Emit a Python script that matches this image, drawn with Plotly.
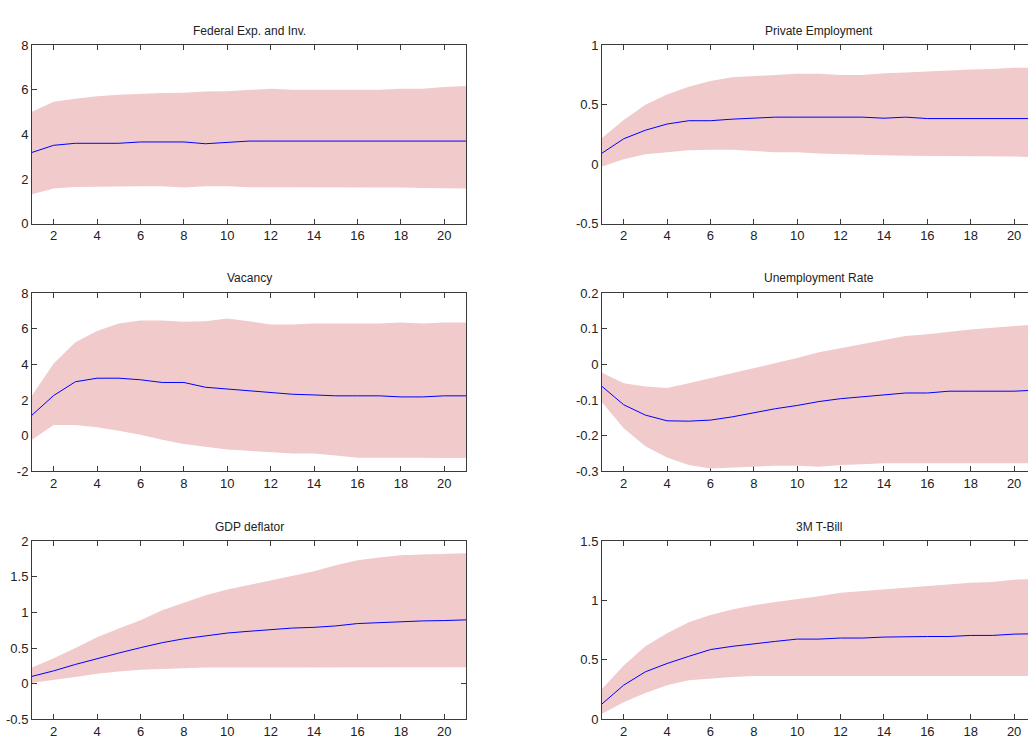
import plotly.graph_objects as go

periods = list(range(1, 22))

titles = ["Federal Exp. and Inv.", "Private Employment", "Vacancy",
          "Unemployment Rate", "GDP deflator", "3M T-Bill"]

fed_med = [3.19, 3.51, 3.60, 3.60, 3.60, 3.66, 3.66, 3.66, 3.58, 3.64, 3.70,
           3.70, 3.70, 3.70, 3.70, 3.70, 3.70, 3.70, 3.70, 3.70, 3.70]
fed_up = [5.02, 5.46, 5.60, 5.71, 5.78, 5.83, 5.86, 5.87, 5.92, 5.93, 6.00,
          6.05, 6.00, 6.00, 6.00, 6.00, 6.00, 6.05, 6.05, 6.12, 6.17]
fed_lo = [1.31, 1.57, 1.64, 1.67, 1.67, 1.67, 1.67, 1.62, 1.67, 1.67, 1.63,
          1.62, 1.62, 1.62, 1.62, 1.62, 1.62, 1.62, 1.60, 1.57, 1.57]

pe_med = [0.092, 0.213, 0.285, 0.337, 0.365, 0.365, 0.378, 0.386, 0.395, 0.395, 0.395,
          0.395, 0.395, 0.386, 0.395, 0.383, 0.383, 0.383, 0.383, 0.383, 0.383]
pe_up = [0.22, 0.37, 0.50, 0.585, 0.65, 0.70, 0.73, 0.74, 0.75, 0.76, 0.76,
         0.75, 0.75, 0.765, 0.77, 0.78, 0.785, 0.795, 0.80, 0.81, 0.81]
pe_lo = [-0.02, 0.04, 0.083, 0.10, 0.116, 0.12, 0.12, 0.11, 0.10, 0.10, 0.09,
         0.083, 0.078, 0.075, 0.07, 0.064, 0.064, 0.064, 0.064, 0.064, 0.056]

vac_med = [1.16, 2.26, 3.03, 3.23, 3.23, 3.14, 2.99, 2.99, 2.72, 2.62, 2.50,
           2.40, 2.33, 2.29, 2.24, 2.24, 2.24, 2.18, 2.18, 2.24, 2.24]
vac_up = [2.26, 4.06, 5.25, 5.87, 6.29, 6.46, 6.46, 6.39, 6.42, 6.57, 6.42,
          6.24, 6.24, 6.29, 6.29, 6.29, 6.29, 6.35, 6.29, 6.35, 6.35]
vac_lo = [-0.22, 0.61, 0.61, 0.48, 0.28, 0.06, -0.22, -0.46, -0.62, -0.77, -0.83,
          -0.92, -0.99, -0.99, -1.10, -1.23, -1.23, -1.23, -1.23, -1.23, -1.25]

ur_med = [-0.0615, -0.113, -0.142, -0.158, -0.159, -0.156, -0.147, -0.135, -0.124, -0.115, -0.104,
          -0.096, -0.090, -0.084, -0.080, -0.080, -0.075, -0.075, -0.075, -0.075, -0.072]
ur_up = [-0.023, -0.053, -0.062, -0.066, -0.053, -0.039, -0.023, -0.009, 0.005, 0.018, 0.034,
         0.046, 0.058, 0.069, 0.080, 0.085, 0.092, 0.098, 0.103, 0.107, 0.112]
ur_lo = [-0.106, -0.179, -0.229, -0.261, -0.282, -0.292, -0.289, -0.287, -0.284, -0.284, -0.287,
         -0.282, -0.280, -0.277, -0.275, -0.275, -0.276, -0.276, -0.277, -0.277, -0.277]

gdp_med = [0.103, 0.18, 0.27, 0.355, 0.43, 0.505, 0.575, 0.63, 0.675, 0.71, 0.735,
           0.757, 0.78, 0.79, 0.81, 0.843, 0.857, 0.866, 0.88, 0.885, 0.895]
gdp_up = [0.227, 0.355, 0.50, 0.652, 0.775, 0.89, 1.03, 1.14, 1.24, 1.32, 1.385,
          1.44, 1.51, 1.575, 1.66, 1.73, 1.77, 1.80, 1.81, 1.82, 1.83]
gdp_lo = [0.012, 0.057, 0.094, 0.14, 0.17, 0.195, 0.21, 0.218, 0.227, 0.23, 0.23,
          0.23, 0.23, 0.23, 0.23, 0.23, 0.23, 0.23, 0.23, 0.23, 0.23]

tb_med = [0.13, 0.288, 0.40, 0.47, 0.53, 0.587, 0.614, 0.637, 0.656, 0.675, 0.675,
          0.684, 0.684, 0.692, 0.697, 0.697, 0.697, 0.706, 0.706, 0.717, 0.72]
tb_up = [0.255, 0.454, 0.614, 0.725, 0.816, 0.877, 0.924, 0.96, 0.988, 1.01, 1.035,
         1.066, 1.08, 1.093, 1.107, 1.12, 1.135, 1.15, 1.155, 1.175, 1.18]
tb_lo = [0.047, 0.144, 0.221, 0.288, 0.33, 0.343, 0.357, 0.365, 0.37, 0.37, 0.37,
         0.365, 0.365, 0.365, 0.365, 0.365, 0.365, 0.365, 0.365, 0.365, 0.365]

x_ticks = [2, 4, 6, 8, 10, 12, 14, 16, 18, 20]
x_ticktext = ["2", "4", "6", "8", "10", "12", "14", "16", "18", "20"]

y_ticks = [
    [0, 2, 4, 6, 8],
    [-0.5, 0, 0.5, 1],
    [-2, 0, 2, 4, 6, 8],
    [-0.3, -0.2, -0.1, 0, 0.1, 0.2],
    [-0.5, 0, 0.5, 1, 1.5, 2],
    [0, 0.5, 1, 1.5],
]
y_ticktext = [
    ["0", "2", "4", "6", "8"],
    ["-0.5", "0", "0.5", "1"],
    ["-2", "0", "2", "4", "6", "8"],
    ["-0.3", "-0.2", "-0.1", "0", "0.1", "0.2"],
    ["-0.5", "0", "0.5", "1", "1.5", "2"],
    ["0", "0.5", "1", "1.5"],
]
y_ranges = [[0, 8], [-0.5, 1], [-2, 8], [-0.3, 0.2], [-0.5, 2], [0, 1.5]]

series = [
    (fed_med, fed_up, fed_lo),
    (pe_med, pe_up, pe_lo),
    (vac_med, vac_up, vac_lo),
    (ur_med, ur_up, ur_lo),
    (gdp_med, gdp_up, gdp_lo),
    (tb_med, tb_up, tb_lo),
]

W, H = 1028, 745
band_color = "#F1CACC"
line_color = "#0000FF"
axis_color = "#3A3A3A"
font_family = "Liberation Sans, Arial, sans-serif"

# pixel geometry
left_dom = [32 / W, 466 / W]
right_dom = [602 / W, 1.0]
row_px = [(39, 221), (292, 474), (545, 727)]
title_y_px = [24, 277, 531]

fig = go.Figure()
layout = {}
annotations = []
for i in range(6):
    r, c = divmod(i, 2)
    n = i + 1
    xa = "xaxis" if n == 1 else f"xaxis{n}"
    ya = "yaxis" if n == 1 else f"yaxis{n}"
    xref = "x" if n == 1 else f"x{n}"
    yref = "y" if n == 1 else f"y{n}"
    med, up, lo = series[i]
    fig.add_trace(go.Scatter(
        x=periods + periods[::-1], y=up + lo[::-1], fill="toself",
        fillcolor=band_color, line=dict(width=0), mode="lines",
        hoverinfo="skip", showlegend=False, xaxis=xref, yaxis=yref))
    fig.add_trace(go.Scatter(
        x=periods, y=med, mode="lines", line=dict(color=line_color, width=1),
        showlegend=False, xaxis=xref, yaxis=yref))
    top, bot = row_px[r]
    ydom = [1 - bot / H, 1 - top / H]
    xdom = left_dom if c == 0 else right_dom
    xr = [1, 21] if c == 0 else [1, 20.64]
    layout[xa] = dict(
        domain=xdom, range=xr, tickvals=x_ticks, ticktext=x_ticktext,
        ticks="inside", ticklen=5, tickcolor=axis_color, showline=True,
        linecolor=axis_color, linewidth=1, mirror="ticks", showgrid=False,
        zeroline=False, anchor=yref, layer="below traces",
        tickfont=dict(size=13, color="#222222", family=font_family))
    layout[ya] = dict(
        domain=ydom, range=y_ranges[i], tickvals=y_ticks[i], ticktext=y_ticktext[i],
        ticks="inside", ticklen=5, tickcolor=axis_color, showline=True,
        linecolor=axis_color, linewidth=1, mirror="ticks" if c == 0 else False,
        showgrid=False, zeroline=False, anchor=xref, layer="below traces",
        tickfont=dict(size=13, color="#222222", family=font_family))
    cx = 249 / W if c == 0 else 819 / W
    annotations.append(dict(
        text=titles[i], x=cx, y=1 - title_y_px[r] / H, xref="paper", yref="paper",
        xanchor="center", yanchor="middle", showarrow=False,
        font=dict(size=12, color="#222222", family=font_family)))

fig.update_layout(
    width=W, height=H, margin=dict(l=0, r=0, t=0, b=0),
    paper_bgcolor="white", plot_bgcolor="white",
    annotations=annotations, **layout)

fig.write_html("out.html")
